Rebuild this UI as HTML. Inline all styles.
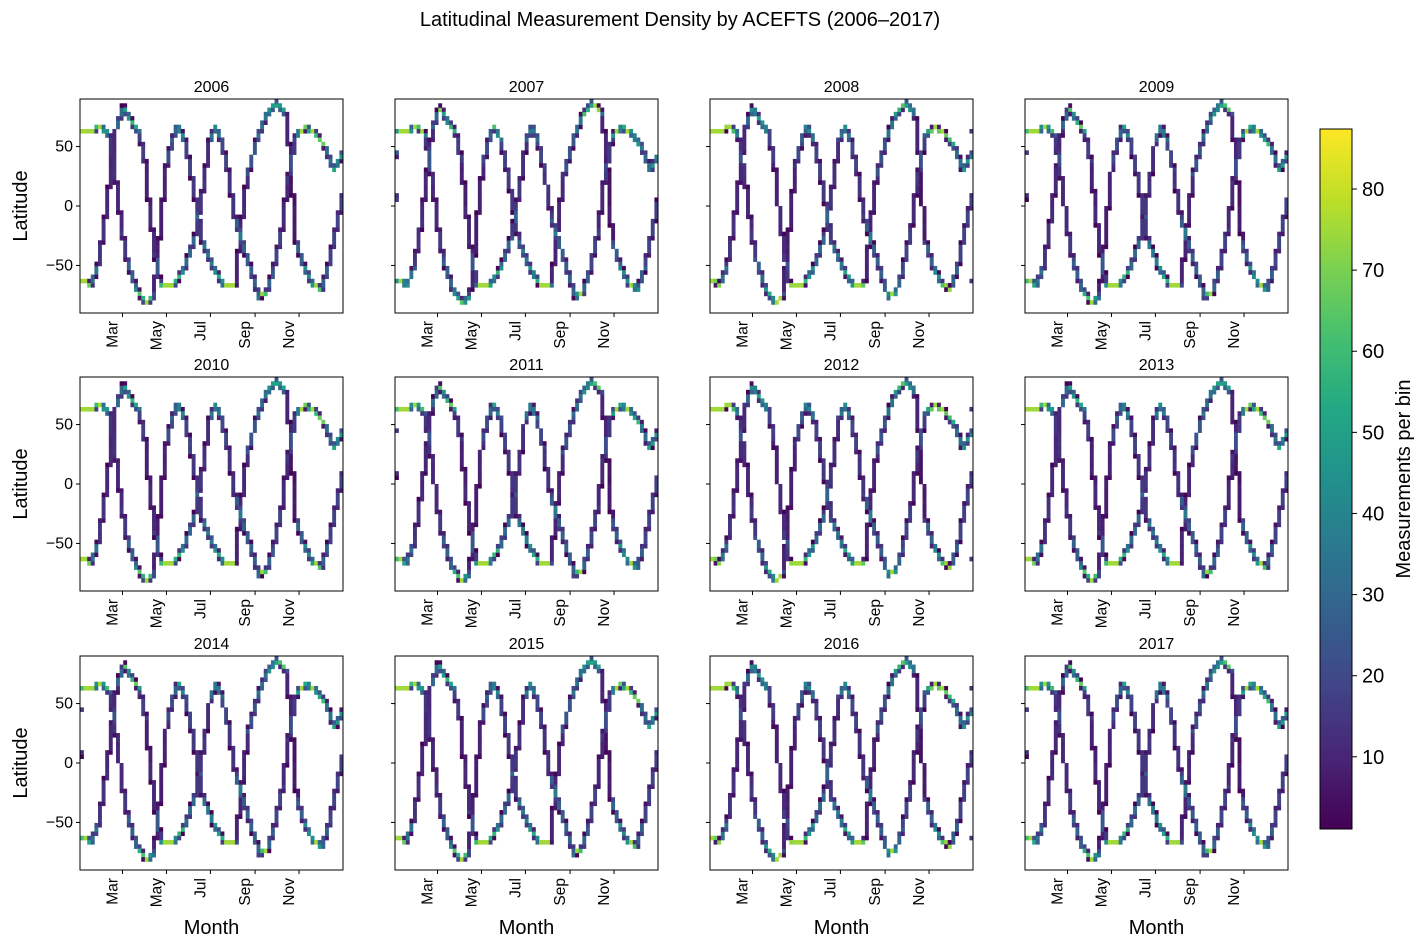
<!DOCTYPE html>
<html><head><meta charset="utf-8"><style>
body{margin:0;background:#fff;}
svg{display:block;font-family:"Liberation Sans","DejaVu Sans",sans-serif;}
</style></head><body>
<svg id="c" width="1424" height="947" viewBox="0 0 1424 947">
<defs><linearGradient id="vg" x1="0" y1="1" x2="0" y2="0">
<stop offset="0" stop-color="#440154"/><stop offset="0.1" stop-color="#482475"/><stop offset="0.2" stop-color="#414487"/><stop offset="0.3" stop-color="#355f8d"/><stop offset="0.4" stop-color="#2a788e"/><stop offset="0.5" stop-color="#21918c"/><stop offset="0.6" stop-color="#22a884"/><stop offset="0.7" stop-color="#44bf70"/><stop offset="0.8" stop-color="#7ad151"/><stop offset="0.9" stop-color="#bddf26"/><stop offset="1" stop-color="#fde725"/>
</linearGradient></defs>
<text x="680" y="26" font-size="20" text-anchor="middle">Latitudinal Measurement Density by ACEFTS (2006–2017)</text>
</svg>
<script>
const years = [2006,2007,2008,2009,2010,2011,2012,2013,2014,2015,2016,2017];
const yearShift = [0,2,-1,1,0,1,-1,0,1,0,-1,1];
const trackADays = [0,30,40,50,58,65,78,92,102,108,114,120,128,135,145,155,170,185,200,215,225,232,246,258,272,285,292,296,300,310,322,335,345,355,365];
const trackALats = [62,66,60,20,-20,-45,-70,-82,-75,-40,0,35,55,68,55,25,-30,-52,-67,-67,-10,25,57,76,87,78,40,0,-30,-50,-65,-70,-50,-20,10];
const trackBDays = [0,15,25,35,42,50,60,72,82,90,96,104,112,130,145,160,172,180,188,196,205,215,230,240,248,258,268,280,288,300,313,325,340,352,365];
const trackBLats = [-62,-66,-50,-10,25,65,83,70,62,37,0,-40,-68,-66,-52,-25,20,55,67,55,30,-10,-40,-60,-76,-74,-55,-20,20,60,66,62,50,30,45];
const monthLabels = ["Mar","May","Jul","Sep","Nov"];
const monthDays = [59,120,181,243,304];
const latTicks = [50,0,-50];
const cbTicks = [10,20,30,40,50,60,70,80];
const VMIN=1.1, VMAX=87.4;

const NS="http://www.w3.org/2000/svg";
const svg=document.getElementById('c');
function mk(tag,attrs,parent){const e=document.createElementNS(NS,tag);for(const k in attrs)e.setAttribute(k,attrs[k]);(parent||svg).appendChild(e);return e;}
const vir=["#440154","#482475","#414487","#355f8d","#2a788e","#21918c","#22a884","#44bf70","#7ad151","#bddf26","#fde725"];
function hex(h){return [parseInt(h.substr(1,2),16),parseInt(h.substr(3,2),16),parseInt(h.substr(5,2),16)];}
function cmap(v){let t=(v-VMIN)/(VMAX-VMIN);t=Math.max(0,Math.min(1,t));const p=t*10,i=Math.min(9,Math.floor(p)),f=p-i;const a=hex(vir[i]),b=hex(vir[i+1]);return `rgb(${Math.round(a[0]+(b[0]-a[0])*f)},${Math.round(a[1]+(b[1]-a[1])*f)},${Math.round(a[2]+(b[2]-a[2])*f)})`;}
function interp(ds,ls,d){d=((d%365)+365)%365;for(let i=0;i<ds.length-1;i++){if(d>=ds[i]&&d<=ds[i+1]){const f=(d-ds[i])/(ds[i+1]-ds[i]);return ls[i]+(ls[i+1]-ls[i])*f;}}return ls[ls.length-1];}

const colX=[80,395,710,1025], rowY=[99,377,656], PW=263, PH=214;
const NX=73, NY=50;
years.forEach((yr,idx)=>{
  const c=idx%4, r=Math.floor(idx/4), x0=colX[c], y0=rowY[r];
  const g=mk('g',{});
  
  
  const xs=d=>x0+d/365*PW, ys=l=>y0+(90-l)/180*PH;
  const grid={};
  [[trackADays,trackALats],[trackBDays,trackBLats]].forEach(([ds,ls])=>{
    for(let k=0;k<365*15;k++){const d=k/15;const lat=interp(ds,ls,d-yearShift[idx]);
      const bx=Math.floor(d/5), by=Math.floor((90-lat)/3.6);
      if(by<0||by>=NY)continue;const key=bx+'_'+by;grid[key]=(grid[key]||0)+1;}
  });
  for(const key in grid){const [bx,by]=key.split('_').map(Number);
    const cell=mk('rect',{x:xs(bx*5).toFixed(2),y:(y0+by*PH/NY).toFixed(2),width:(PW/NX+0.3).toFixed(2),height:(PH/NY+0.3).toFixed(2),fill:cmap(grid[key])},g);
    
    
  }
  const fr=mk('rect',{x:x0,y:y0,width:PW,height:PH,fill:'none',stroke:'#000','stroke-width':1},g);
  
  
  const tt=mk('text',{x:x0+PW/2,y:y0-7,'font-size':16,'text-anchor':'middle'},g);tt.textContent=yr;
  
  
  latTicks.forEach(l=>{const y=ys(l);mk('line',{x1:x0-4,x2:x0,y1:y,y2:y,stroke:'#000'},g);
    if(c===0){const t=mk('text',{x:x0-7,y:y+5,'font-size':16,'text-anchor':'end'},g);t.textContent=l<0?'−'+(-l):l;
      
      }});
  monthDays.forEach((d,i)=>{const x=xs(d);mk('line',{x1:x,x2:x,y1:y0+PH,y2:y0+PH+4,stroke:'#000'},g);
    const t=mk('text',{x:0,y:0,'font-size':15.5,'text-anchor':'end',transform:`translate(${x-5},${y0+PH+8}) rotate(-90)`},g);t.textContent=monthLabels[i];
    
    });
  if(c===0){const t=mk('text',{x:0,y:0,'font-size':20,'text-anchor':'middle',transform:`translate(27,${y0+PH/2}) rotate(-90)`},g);t.textContent='Latitude';
    
    }
  if(r===2){const t=mk('text',{x:x0+PW/2,y:934,'font-size':20,'text-anchor':'middle'},g);t.textContent='Month';
    
    }
});
const cb=mk('g',{});


mk('rect',{x:1320,y:129,width:32,height:700,fill:'url(#vg)',stroke:'#000','stroke-width':1},cb);
cbTicks.forEach(v=>{const y=829-(v-VMIN)/(VMAX-VMIN)*700;mk('line',{x1:1352,x2:1357,y1:y,y2:y,stroke:'#000'},cb);
  const t=mk('text',{x:1362,y:y+7,'font-size':20},cb);t.textContent=v;
  
  });
const cl=mk('text',{x:0,y:0,'font-size':20,'text-anchor':'middle',transform:'translate(1410,479) rotate(-90)'},cb);cl.textContent='Measurements per bin';


</script>
</body></html>
